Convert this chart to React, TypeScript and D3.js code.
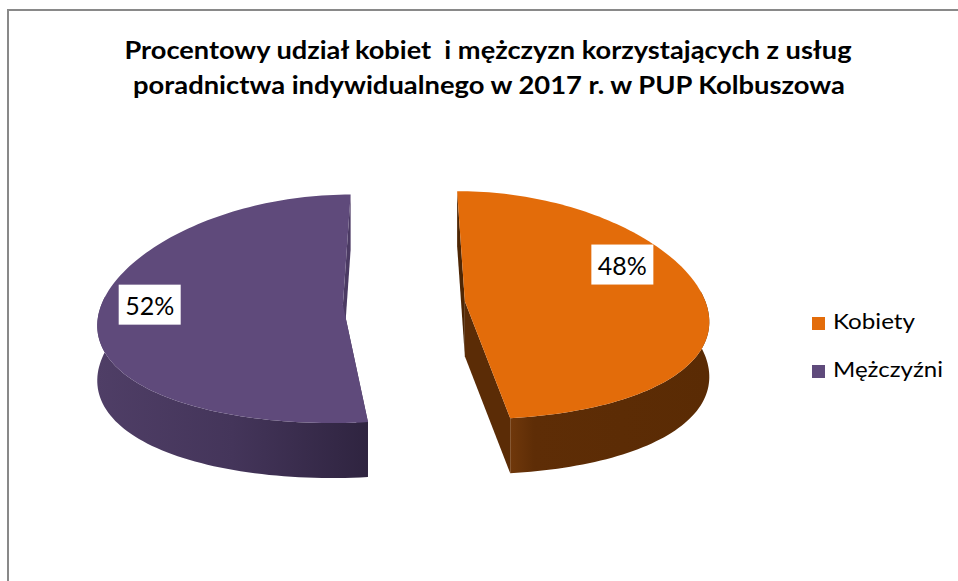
import React from 'react';
import * as d3 from 'd3';

const categories = ['Kobiety', 'Mężczyźni'];
const values = [48, 52];
const titleLines = [
  'Procentowy udział kobiet  i mężczyzn korzystających z usług',
  'poradnictwa indywidualnego w 2017 r. w PUP Kolbuszowa',
];

const topColors = ['#E36C0A', '#5F4A7B'];
const wallStops = [
  ['#70380B', '#5E2D06', '#5A2B04'],
  ['#4F3E66', '#44355A', '#2F2440'],
];
const radialColors = [
  ['#4E2604', '#5B2C06'],
  ['#3E2F52', '#4B3A63'],
];

export default function App() {
  const W = 958;
  const H = 581;
  const total = d3.sum(values);
  const arcs = d3.pie<number>().sort(null).value((d) => d)(values);

  // projection of the tilted pie plane
  const K = 241, beta = 0.145, ky = 114, q = 0.035, cx = 404, cy = 303;
  const depth = 55, explode = 0.2535;
  const proj = (X: number, Z: number, dy = 0): [number, number] => [
    cx + (X * K) / (1 + beta * Z),
    cy - (Z * ky) / (1 + q * Z) + dy,
  ];
  const line = d3.line<[number, number]>().x((d) => d[0]).y((d) => d[1]);
  const fmt = d3.format('.0%');

  const labelShift = [-21.4 * Math.PI / 180, 3.7 * Math.PI / 180];
  const labelR = [0.77, 0.8];

  const slices = arcs.map((p, i) => {
    const mid = (p.startAngle + p.endAngle) / 2;
    const ox = explode * Math.sin(mid);
    const oz = explode * Math.cos(mid);
    const pt = (a: number, r: number, dy: number) =>
      proj(ox + r * Math.sin(a), oz + r * Math.cos(a), dy);
    const n = 120;
    const angles = d3.range(n + 1).map((k) => p.startAngle + ((p.endAngle - p.startAngle) * k) / n);
    const top = [pt(0, 0, 0), ...angles.map((a) => pt(a, 1, 0))];
    const front = angles.filter((a) => Math.cos(a) < 0.1);
    const wall = [
      ...front.map((a) => pt(a, 1, 0)),
      ...front.slice().reverse().map((a) => pt(a, 1, depth)),
    ];
    const wallXs = wall.map((d) => d[0]);
    const radial = [p.startAngle, p.endAngle].map((a) => [
      pt(0, 0, 0), pt(a, 1, 0), pt(a, 1, depth), pt(0, 0, depth),
    ] as [number, number][]);
    const la = mid + labelShift[i];
    const lp = pt(la, labelR[i], 0);
    return {
      i, top, wall, radial, lp,
      wx0: d3.min(wallXs) as number, wx1: d3.max(wallXs) as number,
      label: fmt(values[i] / total),
    };
  });

  return (
    <svg width={W} height={H} style={{ position: 'absolute', left: 0, top: 0, background: '#fff' }}>
      <defs>
        {slices.map((s) => (
          <linearGradient key={s.i} id={`wall${s.i}`} gradientUnits="userSpaceOnUse" x1={s.wx0} x2={s.wx1} y1={0} y2={0}>
            <stop offset="0" stopColor={wallStops[s.i][0]} />
            <stop offset={s.i === 0 ? '0.12' : '0.5'} stopColor={wallStops[s.i][1]} />
            <stop offset="1" stopColor={wallStops[s.i][2]} />
          </linearGradient>
        ))}
      </defs>
      <rect x={8} y={10} width={1200} height={1200} fill="#fff" stroke="#898989" strokeWidth={2} />
      <text
        x={488}
        fontFamily="Lato, 'Open Sans', sans-serif"
        fontWeight="bold"
        fontSize={24}
        fill="#000"
        textAnchor="middle"
        style={{ whiteSpace: 'pre' }}
      >
        <tspan x={488} y={59} textLength={727} lengthAdjust="spacingAndGlyphs">{titleLines[0]}</tspan>
        <tspan x={489} y={94} textLength={712} lengthAdjust="spacingAndGlyphs">{titleLines[1]}</tspan>
      </text>
      {slices.map((s) => (
        <g key={s.i}>
          {s.radial.map((r, j) => (
            <path key={j} d={line(r) + 'Z'} fill={radialColors[s.i][j]} />
          ))}
          <path d={line(s.wall) + 'Z'} fill={`url(#wall${s.i})`} />
          <path d={line(s.top) + 'Z'} fill={topColors[s.i]} />
        </g>
      ))}
      {slices.map((s) => (
        <g key={'l' + s.i} transform={`translate(${s.lp[0]},${s.lp[1]})`}>
          <rect x={-31} y={-20} width={62} height={40} fill="#fff" />
          <text y={10} textAnchor="middle" fontFamily="Lato, 'Open Sans', sans-serif" fontSize={25} fill="#000">
            {s.label}
          </text>
        </g>
      ))}
      {categories.map((c, i) => (
        <g key={c} transform={`translate(812,${317 + i * 48})`}>
          <rect width={13} height={13} fill={topColors[i]} />
          <text x={21} y={12} fontFamily="Lato, 'Open Sans', sans-serif" fontSize={22} fill="#000"
            textLength={i === 0 ? 82 : 110} lengthAdjust="spacingAndGlyphs">
            {c}
          </text>
        </g>
      ))}
    </svg>
  );
}
